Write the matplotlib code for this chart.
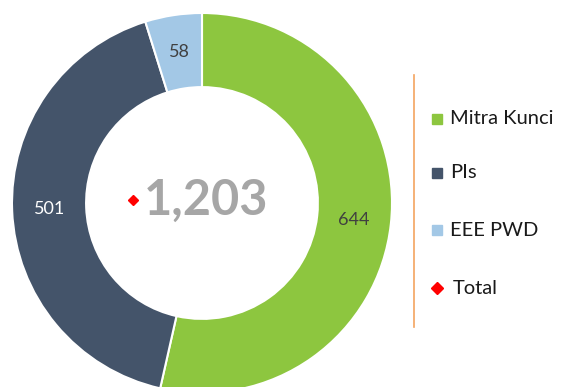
import matplotlib.pyplot as plt

plt.rcParams['font.family'] = ['Lato', 'DejaVu Sans']

categories = ["Mitra Kunci", "PIs", "EEE PWD"]
values = [644, 501, 58]
colors = ["#8DC63F", "#44546A", "#A3C8E6"]
label_colors = ["#404040", "white", "#404040"]
total = sum(values)

W, H = 561, 387
fig = plt.figure(figsize=(W / 100, H / 100), dpi=100)

# donut axes: radius 1 == 190 px, centre at (202, 203) px from top-left
R = 190.0
cx, cy = 202, 203
ax = fig.add_axes([0, 0, 1, 1])

wedges, texts = ax.pie(values, colors=colors, startangle=90, counterclock=False,
                       radius=1.0, labels=[str(v) for v in values], labeldistance=0.805,
                       wedgeprops=dict(width=0.39, edgecolor="white", linewidth=1.5),
                       textprops=dict(fontsize=13, ha="center", va="center"))
for t, c in zip(texts, label_colors):
    t.set_color(c)
ax.set_aspect("auto")
ax.set_xlim(-cx / R, (W - cx) / R)
ax.set_ylim(-(H - cy) / R, cy / R)
ax.axis("off")

# total in the middle
ax.text(0.02, 0.015, "{:,}".format(total), ha="center", va="center",
        fontsize=35, fontweight="bold", color="#A6A6A6")
ax.plot([-0.365], [0.015], marker="D", color="red", markersize=5.5, linestyle="none")

# legend drawn in pixel coordinates
lx = fig.add_axes([0, 0, 1, 1], facecolor="none")
lx.set_xlim(0, W)
lx.set_ylim(H, 0)
lx.axis("off")
lx.plot([414, 414], [75, 327], color="#F4A460", linewidth=1.2)

rows_y = [119, 173, 230, 288]
for name, col, y in zip(categories, colors, rows_y):
    lx.plot([437], [y], marker="s", color=col, markersize=7.5, linestyle="none")
    lx.text(450, y, name, ha="left", va="center", fontsize=14.5, color="#1a1a1a")
lx.plot([437], [rows_y[3]], marker="D", color="red", markersize=6.5, linestyle="none")
lx.text(453, rows_y[3], "Total", ha="left", va="center", fontsize=14.5, color="#1a1a1a")

fig.savefig("out.png", dpi=100)
